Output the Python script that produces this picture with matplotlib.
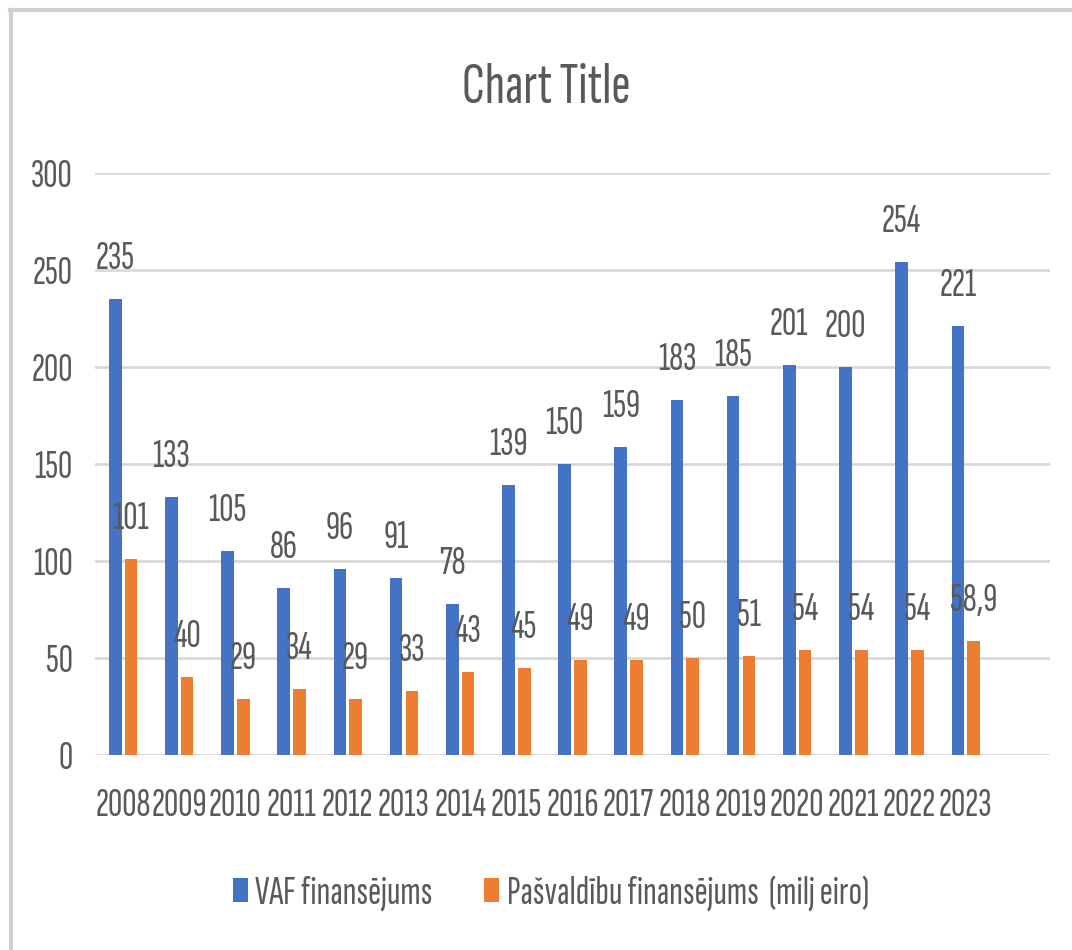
import matplotlib
matplotlib.use("Agg")
import matplotlib.pyplot as plt
from matplotlib.lines import Line2D
from matplotlib.patches import Patch
import numpy as np

years = ["2008", "2009", "2010", "2011", "2012", "2013", "2014", "2015",
         "2016", "2017", "2018", "2019", "2020", "2021", "2022", "2023"]
vaf = [235, 133, 105, 86, 96, 91, 78, 139, 150, 159, 183, 185, 201, 200, 254, 221]
pasv = [101, 40, 29, 34, 29, 33, 43, 45, 49, 49, 50, 51, 54, 54, 54, 58.9]
series_names = ["VAF finansējums", "Pašvaldību finansējums  (milj eiro)"]
title = "Chart Title"

plt.rcParams['font.family'] = ['Sofia Sans Extra Condensed', 'Saira ExtraCondensed',
                               'Liberation Sans', 'DejaVu Sans']
TXT = "#595959"
BLUE = "#4472C4"
ORANGE = "#ED7D31"
GRID = "#D9D9D9"
FS = 28.5

fig = plt.figure(figsize=(10.72, 9.5), dpi=100)
ax = fig.add_axes([95 / 1072, 195 / 950, 955 / 1072, 582 / 950])

x = np.arange(len(years))
w = 0.225
off = 0.14
b1 = ax.bar(x - off, vaf, w, color=BLUE, zorder=3)
b2 = ax.bar(x + off, pasv, w, color=ORANGE, zorder=3)

def fmt(v):
    return f"{v:g}".replace(".", ",")

for xi, v in zip(x, vaf):
    ax.annotate(fmt(v), (xi - off, v), xytext=(0, 21.6), textcoords="offset points",
                ha="center", va="baseline", fontsize=FS, color=TXT, zorder=5)
for xi, v in zip(x, pasv):
    ax.annotate(fmt(v), (xi + off, v), xytext=(0, 21.6), textcoords="offset points",
                ha="center", va="baseline", fontsize=FS, color=TXT, zorder=5)

ax.set_xlim(-0.5, 16.5)
ax.set_ylim(0, 300)
ax.set_yticks(np.arange(0, 301, 50))
ax.set_xticks(x)
ax.set_xticklabels(years)
ax.tick_params(axis="both", length=0, labelsize=FS, labelcolor=TXT)
ax.tick_params(axis="y", pad=16)
ax.tick_params(axis="x", pad=24)
ax.yaxis.grid(True, color=GRID, linewidth=2.0, zorder=0)
ax.set_axisbelow(True)
for s in ax.spines.values():
    s.set_visible(False)
ax.set_facecolor("none")

fig.text(546 / 1072, (950 - 103) / 950, title, ha="center", va="baseline",
         fontsize=42, color=TXT)

handles = [Patch(facecolor=BLUE), Patch(facecolor=ORANGE)]
fig.legend(handles, series_names, loc="center", bbox_to_anchor=(551 / 1072, 56 / 950),
           ncol=2, frameon=False, fontsize=FS, labelcolor=TXT,
           handlelength=0.38, handleheight=0.53, handletextpad=0.2,
           columnspacing=1.3, borderpad=0, borderaxespad=0)

# chart area border (top and left visible)
fig.add_artist(Line2D([10 / 1072, 1.0], [1 - 10 / 950, 1 - 10 / 950],
                      transform=fig.transFigure, color="#D0D0D0", linewidth=3))
fig.add_artist(Line2D([10.5 / 1072, 10.5 / 1072], [0, 1 - 10 / 950],
                      transform=fig.transFigure, color="#D0D0D0", linewidth=3))

fig.savefig("out.png", dpi=100, facecolor="white")
